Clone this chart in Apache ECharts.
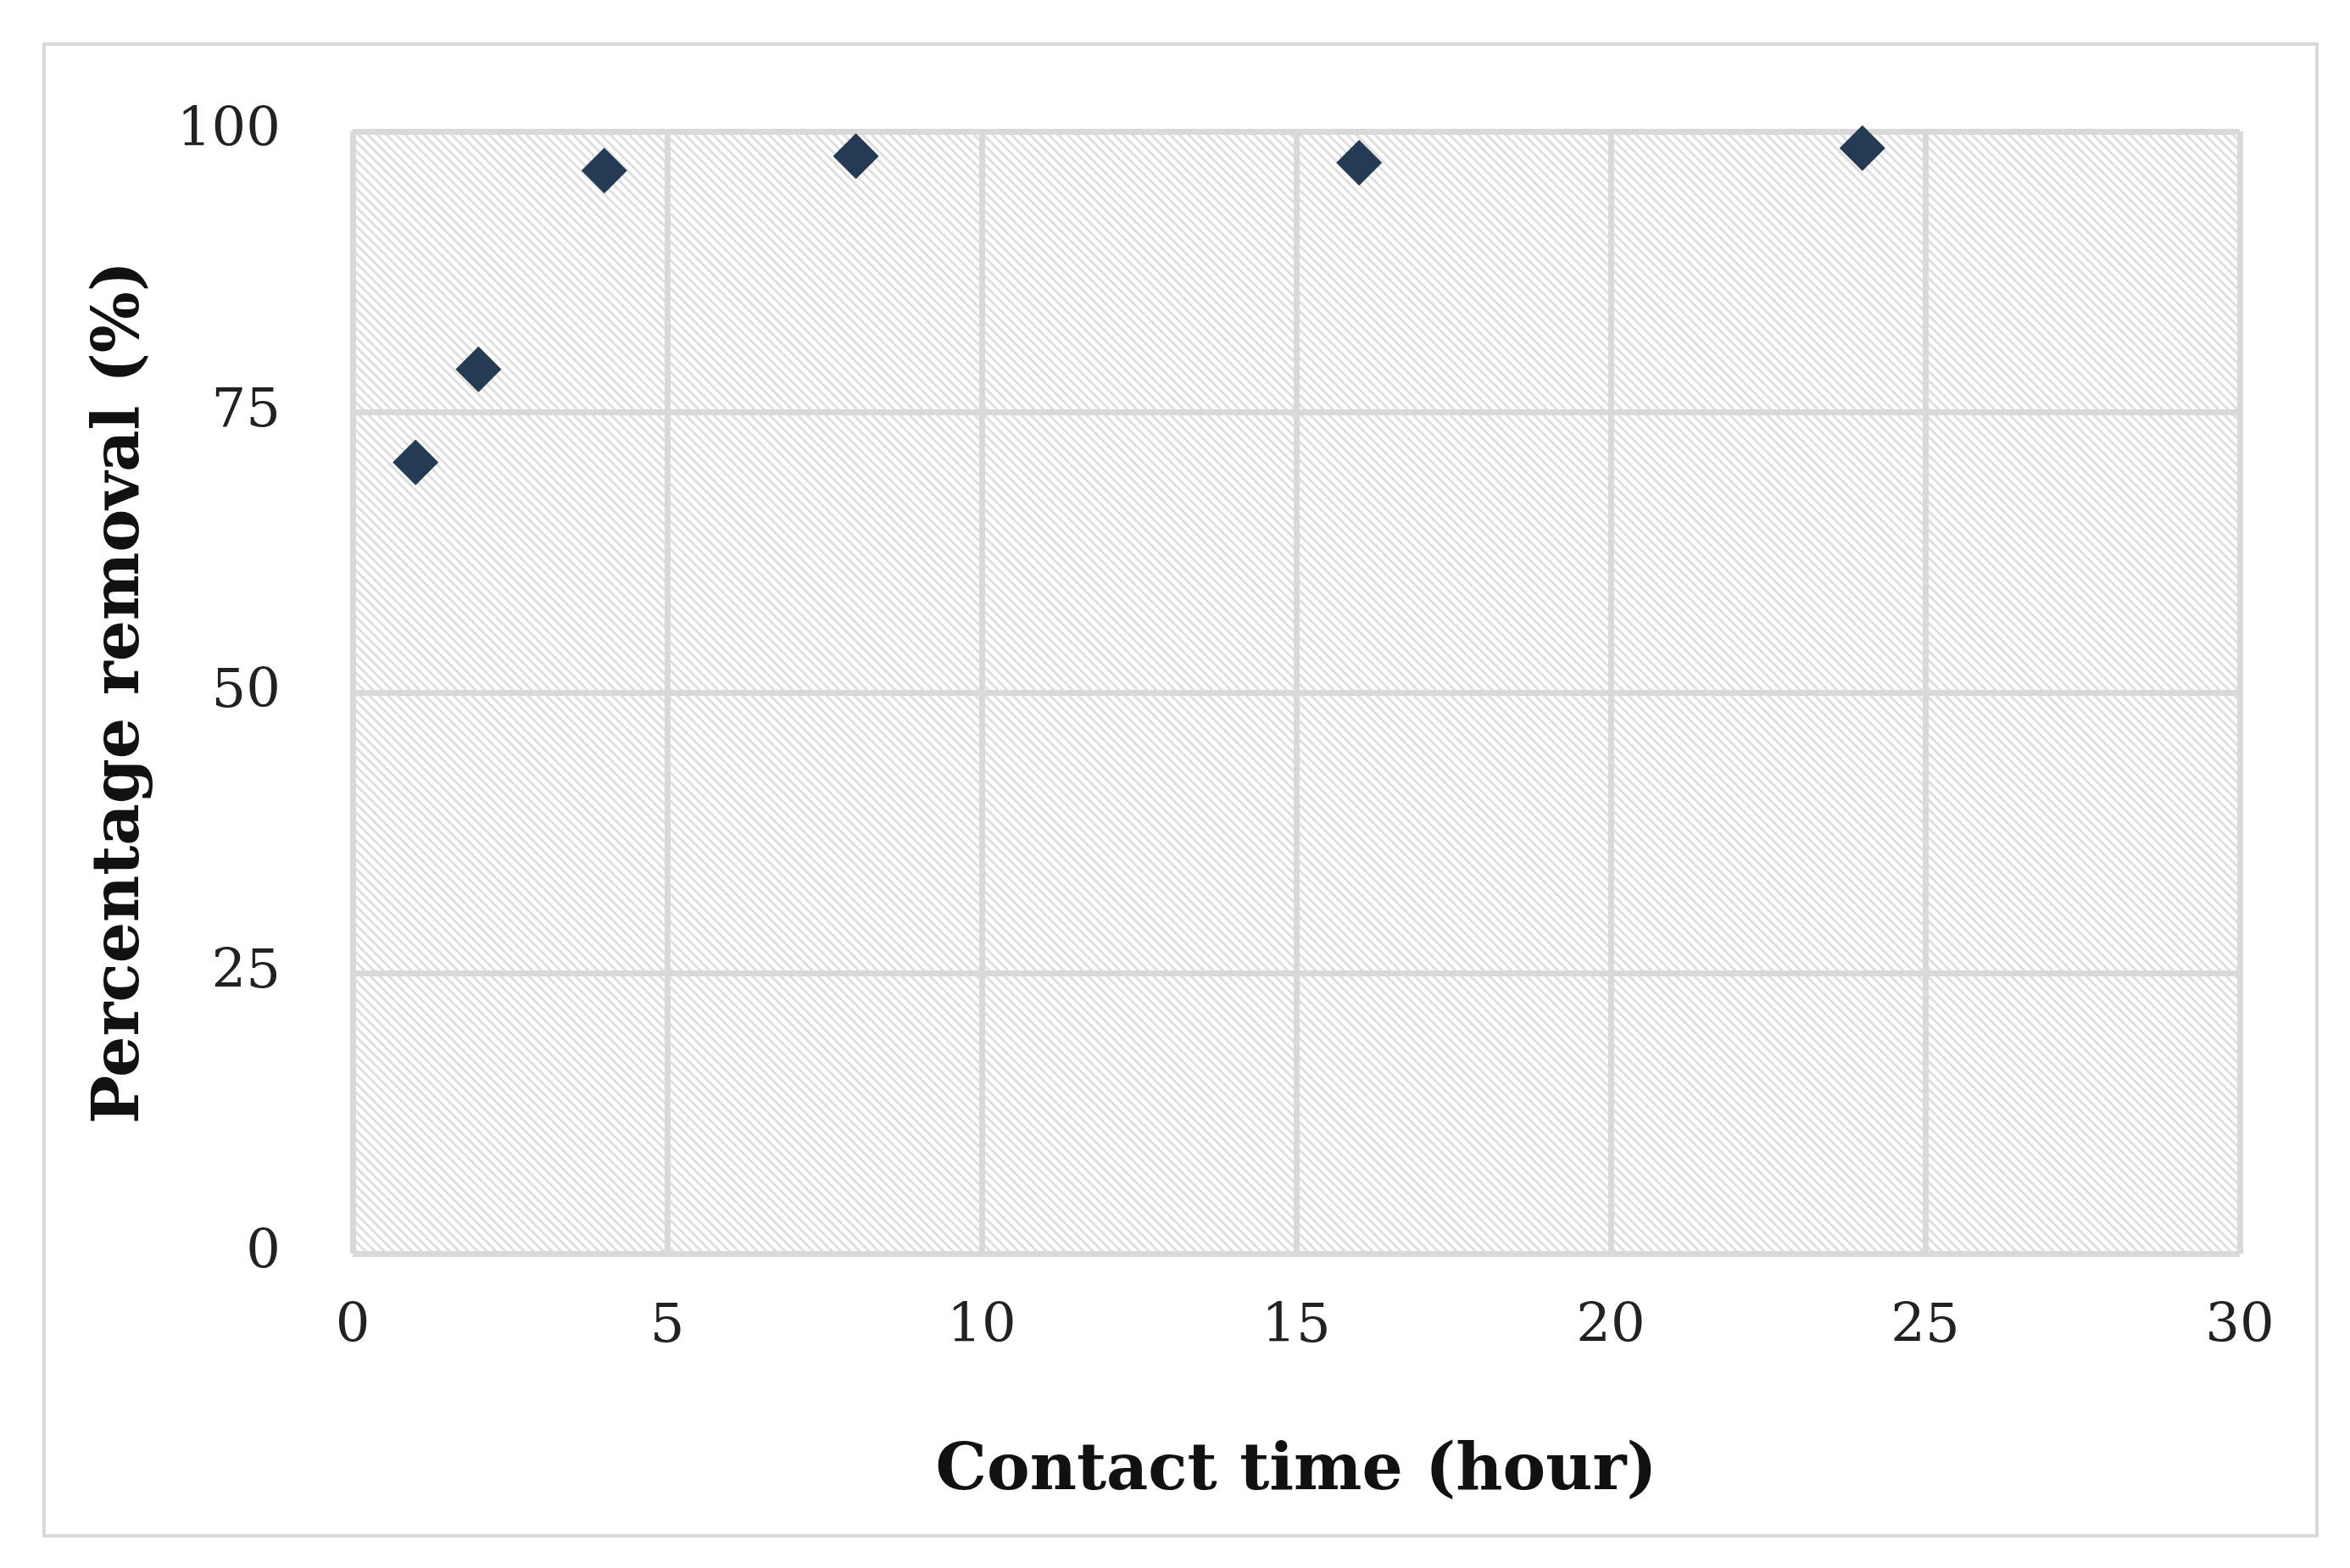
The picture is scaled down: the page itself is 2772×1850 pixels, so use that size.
<!DOCTYPE html>
<html>
<head>
<meta charset="utf-8">
<script src="https://cdn.jsdelivr.net/npm/echarts@6/dist/echarts.min.js"></script>
<style>
  html, body { margin: 0; padding: 0; background: #fff; }
  #frame { position: absolute; left: 50px; top: 50px; width: 2677px; height: 1756px; border: 4px solid #d9d9d9; }
  #chart { position: absolute; left: 0; top: 0; width: 2772px; height: 1850px; }
</style>
</head>
<body>
<div id="frame"></div>
<div id="chart"></div>
<script>
// contact time (hour) vs percentage removal (%)
const contactTime = [1, 2, 4, 8, 16, 24];
const removal = [70.5, 78.8, 96.5, 97.8, 97.2, 98.5];
const xTicks = [0, 5, 10, 15, 20, 25, 30];
const yTicks = [0, 25, 50, 75, 100];

// diagonal hatch for the plot area
function hatch() {
  const c = document.createElement("canvas");
  c.width = 11;
  c.height = 11;
  const g = c.getContext("2d");
  g.fillStyle = "#ffffff";
  g.fillRect(0, 0, 11, 11);
  g.strokeStyle = "#dedede";
  g.lineWidth = 3;
  g.beginPath();
  g.moveTo(-3, -3); g.lineTo(14, 14);
  g.moveTo(-3, 8); g.lineTo(3, 14);
  g.moveTo(8, -3); g.lineTo(14, 3);
  g.stroke();
  return c;
}

const chartDom = document.getElementById("chart");
const myChart = echarts.init(chartDom, null, { renderer: "canvas" });

const font = "'DejaVu Serif', 'Liberation Serif', serif";

const option = {
  animation: false,
  grid: {
    left: 416,
    right: 130,
    top: 155,
    bottom: 371,
    show: true,
    backgroundColor: { image: hatch(), repeat: "repeat" },
    borderWidth: 0,
  },
  xAxis: {
    type: "value",
    min: xTicks[0],
    max: xTicks[xTicks.length - 1],
    interval: 5,
    name: "Contact time (hour)",
    nameLocation: "middle",
    nameGap: 220,
    nameTextStyle: { fontFamily: font, fontWeight: "bold", fontSize: 76, color: "#111" },
    axisLine: { show: false },
    axisTick: { show: false },
    axisLabel: { fontFamily: font, fontSize: 64, color: "#222", margin: 55 },
    splitLine: { lineStyle: { color: "#d9d9d9", width: 7 } },
  },
  yAxis: {
    type: "value",
    min: yTicks[0],
    max: yTicks[yTicks.length - 1],
    interval: 25,
    name: "Percentage removal (%)",
    nameLocation: "middle",
    nameGap: 235,
    nameTextStyle: { fontFamily: font, fontWeight: "bold", fontSize: 76, color: "#111" },
    axisLine: { show: false },
    axisTick: { show: false },
    axisLabel: { fontFamily: font, fontSize: 64, color: "#222", margin: 85 },
    splitLine: { lineStyle: { color: "#d9d9d9", width: 7 } },
  },
  series: [
    {
      type: "scatter",
      symbol: "diamond",
      symbolSize: [54, 54],
      itemStyle: { color: "#243b53", opacity: 1 },
      data: contactTime.map((t, i) => [t, removal[i]]),
    },
  ],
};

myChart.setOption(option);
</script>
</body>
</html>
